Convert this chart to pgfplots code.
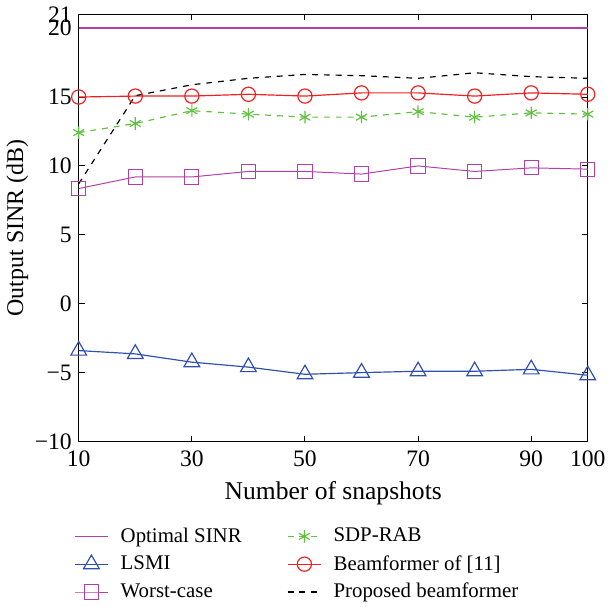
\documentclass[border=0pt]{standalone}
\usepackage{fontspec}
\setmainfont{Liberation Serif}
\usepackage{pgfplots}
\pgfplotsset{compat=1.18}
\definecolor{cmag}{HTML}{B040A8}
\definecolor{cblue}{HTML}{3050B0}
\definecolor{cgreen}{HTML}{60C040}
\definecolor{cred}{HTML}{F02020}
\begin{document}
\begin{tikzpicture}
\begin{axis}[
  width=258bp, height=216.5bp, scale only axis,
  xmin=10, xmax=100, ymin=-10, ymax=21,
  xtick={10,30,50,70,90,100},
  ytick={-10,-5,0,5,10,15,20,21},
  yticklabels={−10,−5,0,5,10,15,20,21},
  tick align=inside,
  tick style={black, line width=0.5pt},
  major tick length=3bp,
  axis line style={line width=0.6pt},
  /pgf/number format/assume math mode=true,
  ticklabel style={font=\fontsize{12}{14}\selectfont},
  xticklabel style={yshift=-1bp},
  xlabel style={font=\fontsize{13}{15}\selectfont, yshift=-1bp},
  ylabel style={font=\fontsize{12.2}{14}\selectfont, yshift=-3.5bp},
  xlabel={Number of snapshots},
  ylabel={Output SINR (dB)},
  legend columns=2,
  legend cell align=left,
  legend style={draw=none, fill=none, at={(-0.014,-0.187)}, anchor=north west,
    inner sep=1bp,
    font=\fontsize{10.6}{12.5}\selectfont, row sep=1.2bp,
    /tikz/every odd column/.append style={column sep=4bp},
    /tikz/every even column/.append style={column sep=21bp}},
]
\addplot[cmag, line width=0.7pt] coordinates {(10,20) (100,20)};
\addlegendentry{Optimal SINR}
\addplot[cgreen, dashed, line width=0.6pt, mark=asterisk, mark size=3.2bp, mark options={solid}] coordinates {
(10,12.42) (20,13.08) (30,14.01) (40,13.76) (50,13.54) (60,13.54) (70,13.94) (80,13.54) (90,13.85) (100,13.76)};
\addlegendentry{SDP-RAB}
\addplot[cblue, line width=0.6pt, mark=triangle, mark size=4.6bp] coordinates {
(10,-3.4) (20,-3.64) (30,-4.24) (40,-4.6) (50,-5.12) (60,-5.0) (70,-4.9) (80,-4.9) (90,-4.76) (100,-5.19)};
\addlegendentry{LSMI}
\addplot[cred, line width=0.6pt, mark=o, mark size=3.6bp] coordinates {
(10,15.0) (20,15.07) (30,15.07) (40,15.2) (50,15.07) (60,15.3) (70,15.3) (80,15.07) (90,15.3) (100,15.2)};
\addlegendentry{Beamformer of [11]}
\addplot[cmag, line width=0.5pt, mark=square, mark size=3.6bp] coordinates {
(10,8.36) (20,9.2) (30,9.2) (40,9.6) (50,9.6) (60,9.41) (70,10.0) (80,9.6) (90,9.86) (100,9.77)};
\addlegendentry{Worst-case}
\addplot[black, dashed, line width=0.6pt] coordinates {
(10,8.7) (20,15.1) (30,15.89) (40,16.36) (50,16.64) (60,16.55) (70,16.36) (80,16.76) (90,16.48) (100,16.36)};
\addlegendentry{Proposed beamformer}
\end{axis}
\end{tikzpicture}
\end{document}
